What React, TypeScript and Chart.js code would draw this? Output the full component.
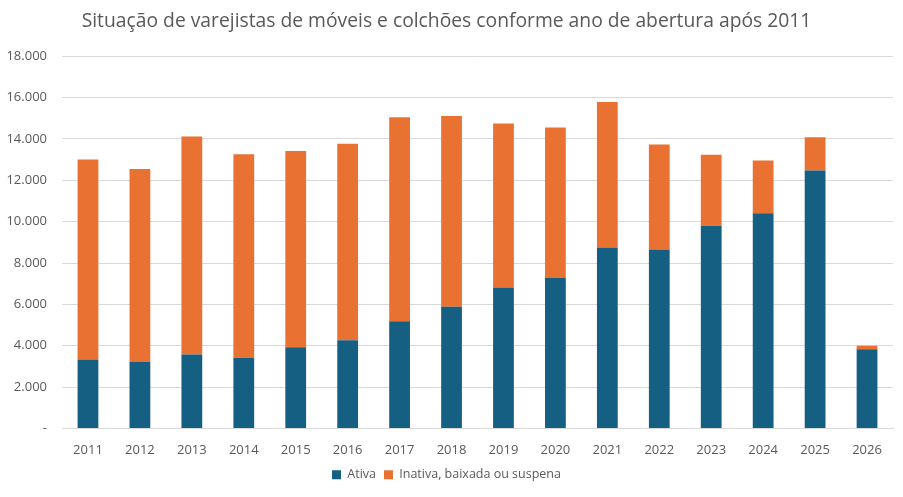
import React, { useEffect, useRef } from "react";
import { Chart, registerables } from "chart.js";

Chart.register(...registerables);

const categories = ["2011","2012","2013","2014","2015","2016","2017","2018","2019","2020","2021","2022","2023","2024","2025","2026"];
const ativa = [3340,3220,3580,3420,3930,4270,5190,5880,6820,7280,8750,8650,9800,10410,12470,3830];
const inativa = [9660,9320,10540,9840,9490,9490,9860,9230,7920,7270,7040,5080,3430,2550,1610,170];
const titleText = "Situação de varejistas de móveis e colchões conforme ano de abertura após 2011";
const seriesNames = ["Ativa", "Inativa, baixada ou suspena"];

const FONT = "'Open Sans', 'Noto Sans', sans-serif";
const TEXT = "#595959";

function fmt(v: number): string {
  if (v === 0) return "-";
  return String(v).replace(/\B(?=(\d{3})+(?!\d))/g, ".");
}

export default function App() {
  const ref = useRef<HTMLCanvasElement | null>(null);
  useEffect(() => {
    if (!ref.current) return;
    const chart = new Chart(ref.current, {
      type: "bar",
      data: {
        labels: categories,
        datasets: [
          { label: seriesNames[0], data: ativa, backgroundColor: "#156082", borderWidth: 0 },
          { label: seriesNames[1], data: inativa, backgroundColor: "#E97132", borderWidth: 0 },
        ],
      },
      options: {
        animation: false,
        responsive: false,
        maintainAspectRatio: false,
        layout: { padding: { left: 0, right: 10, top: 10, bottom: 6 } },
        datasets: { bar: { categoryPercentage: 1, barPercentage: 0.4 } },
        plugins: {
          title: {
            display: true,
            text: titleText,
            color: TEXT,
            font: { family: FONT, size: 19.3, weight: "normal" },
            padding: { top: 0, bottom: 23 },
          },
          legend: {
            position: "bottom",
            labels: {
              color: TEXT,
              font: { family: FONT, size: 12.5 },
              boxWidth: 9,
              boxHeight: 9,
              padding: 8,
            },
          },
          tooltip: { enabled: false },
        },
        scales: {
          x: {
            stacked: true,
            grid: { display: false },
            border: { color: "#d9d9d9", width: 1 },
            ticks: { color: TEXT, font: { family: FONT, size: 13 }, padding: 6 },
            afterFit: (s: any) => { s.height = 32; },
          },
          y: {
            stacked: true,
            min: 0,
            max: 18000,
            grid: { color: "#d9d9d9", drawTicks: false },
            border: { display: false },
            ticks: {
              stepSize: 2000,
              color: TEXT,
              font: { family: FONT, size: 13 },
              padding: 15,
              callback: (v: any) => fmt(Number(v)),
            },
            afterFit: (s: any) => { s.width = 62; },
          },
        },
      },
    });
    return () => chart.destroy();
  }, []);
  return (
    <div style={{ position: "absolute", left: 0, top: 0, width: 903, height: 497, background: "#fff" }}>
      <canvas ref={ref} width={903} height={497} />
    </div>
  );
}
